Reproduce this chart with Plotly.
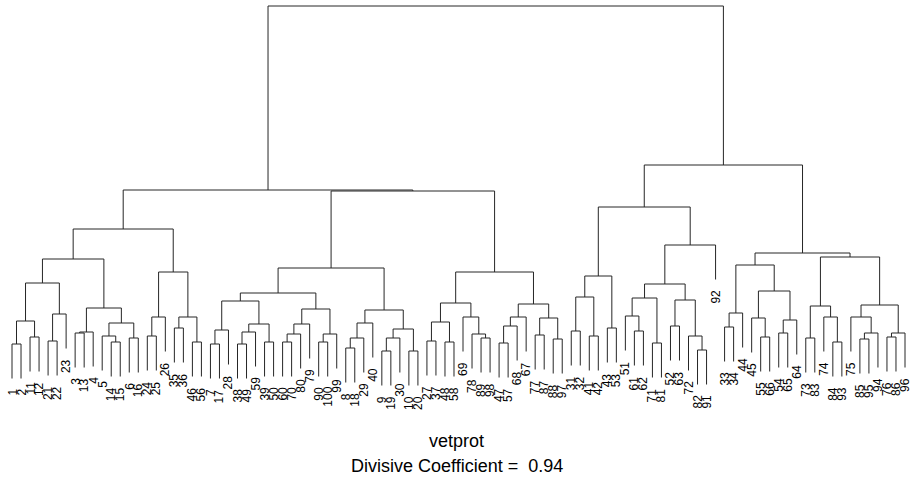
import plotly.graph_objects as go

# ---- data: tree topology (leaf labels) and merge heights (post-order) ----
topo_L1 = (((((1, 2), (11, 12)), ((21, 22), 23)),
             (((3, 13), 4), ((5, (14, 15)), (6, 16)))),
            (((24, 25), 26), ((35, 36), (46, 56))))
heights_L1 = [3.6, 4.3, 5.9, 3.9, 6.6, 9.7, 4.7, 4.8, 3.8, 4.4, 4.2, 5.7, 7.2, 12.1,
              4.4, 6.3, 5.2, 3.8, 6.3, 10.8, 15.1]

topo_M1 = (((((7, 17), 28), (((38, 49), 59), (39, 50))),
            ((((60, 70), 80), 79), ((90, 100), 99))),
           ((((8, 18), 29), 40), (((9, 19), 30), (10, 20))))
heights_M1 = [3.6, 5.0, 3.6, 4.8, 3.8, 5.6, 7.9, 3.8, 4.6, 5.6, 3.8, 4.6, 7.1, 8.7,
              3.2, 4.2, 5.7, 2.9, 4.2, 2.9, 5.1, 7.0, 11.2]

topo_M2 = ((((27, 37), (48, 58)), (69, (78, (89, 98)))),
           ((((47, 57), 68), 67), ((77, 87), (88, 97))))
heights_M2 = [3.9, 3.8, 5.8, 4.2, 4.6, 6.3, 7.7, 3.7, 5.4, 6.3, 4.5, 4.1, 6.2, 7.6, 10.8]

topo_R1 = ((((31, 32), (41, 42)), (43, 53)),
           ((((51, (61, 62)), (71, 81)), ((52, 63), (72, (82, 91)))), 92))
heights_R1 = [4.9, 4.4, 8.3, 5.2, 10.4, 4.9, 6.4, 3.7, 8.2, 5.4, 3.0, 4.4, 8.0, 9.6,
              13.5, 17.3]

topo_R2 = ((((33, 34), 44), ((45, (55, 66)), ((54, 65), 64))),
           (((73, 83), (74, (84, 93))), ((75, ((85, 95), 94)), ((76, 86), 96))))
heights_R2 = [5.3, 6.7, 4.3, 6.2, 4.7, 6.0, 8.9, 11.5, 4.2, 3.8, 6.3, 7.4, 4.1, 4.7,
              6.3, 4.3, 4.7, 7.5, 12.3, 12.7]

# upper merges: M = (M1, M2), A = (L1, M), B = (R1, R2), root = (A, B)
height_M = 18.9
height_A = 19.0
height_B = 21.5
height_root = 37.4

dataset_name = "vetprot"
coef_text = "Divisive Coefficient =  0.94"


def build(topo, hts):
    it = iter(hts)

    def rec(t):
        if isinstance(t, int):
            return {"label": t}
        left = rec(t[0])
        right = rec(t[1])
        return {"l": left, "r": right, "h": next(it)}

    node = rec(topo)
    assert next(it, None) is None
    return node


M = {"l": build(topo_M1, heights_M1), "r": build(topo_M2, heights_M2), "h": height_M}
A = {"l": build(topo_L1, heights_L1), "r": M, "h": height_A}
B = {"l": build(topo_R1, heights_R1), "r": build(topo_R2, heights_R2), "h": height_B}
root = {"l": A, "r": B, "h": height_root}

# layout leaves in order
leaves = []
all_h = []


def place(n):
    if "label" in n:
        n["x"] = len(leaves)
        leaves.append(n)
        return
    place(n["l"])
    place(n["r"])
    n["x"] = (n["l"]["x"] + n["r"]["x"]) / 2
    all_h.append(n["h"])


place(root)
hang = 0.1 * (max(all_h) - min(all_h))

xs, ys = [], []


def draw(n):
    if "label" in n:
        return
    for c in (n["l"], n["r"]):
        if "label" in c:
            c["y"] = n["h"] - hang
        else:
            c["y"] = c["h"]
    xs.extend([n["l"]["x"], n["l"]["x"], n["r"]["x"], n["r"]["x"], None])
    ys.extend([n["l"]["y"], n["h"], n["h"], n["r"]["y"], None])
    draw(n["l"])
    draw(n["r"])


draw(root)

fig = go.Figure()
fig.add_trace(go.Scatter(x=xs, y=ys, mode="lines",
                         line=dict(color="#262626", width=1),
                         hoverinfo="skip", showlegend=False))

W, H = 913, 477
FONT = "Liberation Sans, Arial, Helvetica, sans-serif"
annotations = []
for lf in leaves:
    annotations.append(dict(x=lf["x"], y=lf["y"] - 0.85, xref="x", yref="y",
                            text=str(lf["label"]), showarrow=False, textangle=-90,
                            xanchor="center", yanchor="top",
                            font=dict(family=FONT, size=12, color="black")))
annotations.append(dict(x=0.5, y=1 - 441 / H, xref="paper", yref="paper",
                        text=dataset_name, showarrow=False, xanchor="center",
                        yanchor="middle", font=dict(family=FONT, size=18, color="black")))
annotations.append(dict(x=0.5, y=1 - 466 / H, xref="paper", yref="paper",
                        text=coef_text, showarrow=False, xanchor="center",
                        yanchor="middle", font=dict(family=FONT, size=18, color="black")))

fig.update_layout(
    width=W, height=H,
    margin=dict(l=0, r=0, t=0, b=0),
    paper_bgcolor="white", plot_bgcolor="white",
    xaxis=dict(range=[-1.330, 99.887], visible=False, fixedrange=True),
    yaxis=dict(range=[-9.7, 38.0], visible=False, fixedrange=True),
    annotations=annotations,
)

fig.write_html("out.html", config={"displayModeBar": False},
               post_script="document.body.style.margin='0px';")
